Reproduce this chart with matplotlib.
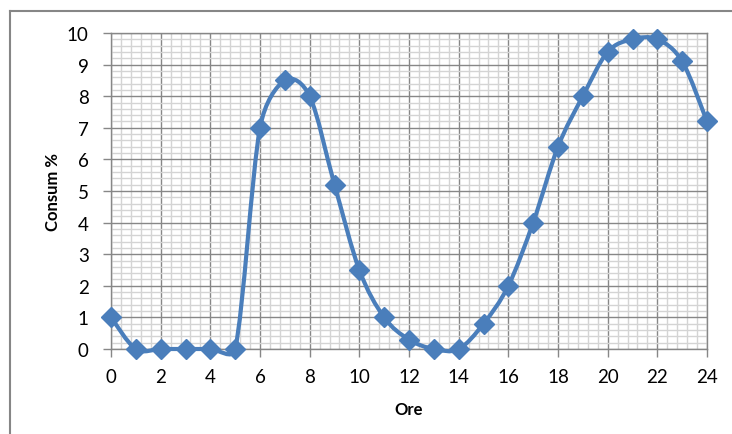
import numpy as np
import matplotlib
matplotlib.use("Agg")
from matplotlib import pyplot as plt
from matplotlib.path import Path
from matplotlib.patches import PathPatch
from matplotlib.lines import Line2D
from matplotlib.ticker import MultipleLocator

# data
ore = [0, 1, 2, 3, 4, 5, 6, 7, 8, 9, 10, 11, 12,
       13, 14, 15, 16, 17, 18, 19, 20, 21, 22, 23, 24]
consum = [1.0, 0.0, 0.0, 0.0, 0.0, 0.0, 7.0, 8.5, 8.0, 5.2, 2.5, 1.0, 0.3,
          0.0, 0.0, 0.8, 2.0, 4.0, 6.4, 8.0, 9.4, 9.8, 9.8, 9.1, 7.2]
x_ticks = [0, 2, 4, 6, 8, 10, 12, 14, 16, 18, 20, 22, 24]
y_ticks = [0, 1, 2, 3, 4, 5, 6, 7, 8, 9, 10]

blue = '#4a7ebb'
major_grey = '#878787'
minor_grey = '#d4d4d4'

plt.rcParams['font.family'] = ['Lato', 'DejaVu Sans']

fig = plt.figure(figsize=(7.32, 4.35), dpi=100)
ax = fig.add_axes([111 / 732, 1 - 350 / 435, 596 / 732, 316 / 435])
ax.set_xlim(0, 24)
ax.set_ylim(0, 10)


def smooth_path(ax, xs, ys):
    # bezier smoothing done in screen space, control arms limited to
    # half of the segment so flat runs don't swing around
    pts = ax.transData.transform(np.column_stack([xs, ys]).astype(float))
    n = len(pts)
    verts = [pts[0]]
    codes = [Path.MOVETO]
    for i in range(n - 1):
        p0 = pts[max(i - 1, 0)]
        p1 = pts[i]
        p2 = pts[i + 1]
        p3 = pts[min(i + 2, n - 1)]
        half = np.hypot(*(p2 - p1)) / 2.0
        t1 = (p2 - p0) / 6.0
        t2 = (p3 - p1) / 6.0
        l1 = np.hypot(*t1)
        l2 = np.hypot(*t2)
        if l1 > half:
            t1 = t1 * half / l1
        if l2 > half:
            t2 = t2 * half / l2
        verts += [p1 + t1, p2 - t2, p2]
        codes += [Path.CURVE4] * 3
    data_verts = ax.transData.inverted().transform(np.array(verts))
    return Path(data_verts, codes)


curve = PathPatch(smooth_path(ax, ore, consum), fill=False, edgecolor=blue, lw=3,
                  transform=ax.transData, clip_on=False, zorder=3,
                  capstyle='round', joinstyle='round')
ax.add_patch(curve)
ax.plot(ore, consum, ls='none', marker='D', ms=10, color=blue, clip_on=False, zorder=4)

ax.set_xticks(x_ticks)
ax.set_yticks(y_ticks)
ax.xaxis.set_minor_locator(MultipleLocator(0.4))
ax.yaxis.set_minor_locator(MultipleLocator(0.2))
ax.grid(which='minor', color=minor_grey, lw=1.0, zorder=0)
ax.grid(which='major', color=major_grey, lw=1.0, zorder=1)
ax.set_axisbelow(True)
ax.tick_params(which='minor', length=0)
ax.tick_params(axis='x', which='major', length=6, width=1, color=major_grey,
               labelsize=13.5, labelcolor='#000000', pad=8)
ax.tick_params(axis='y', which='major', length=6, width=1, color=major_grey,
               labelsize=13.5, labelcolor='#000000', pad=10)
for s in ax.spines.values():
    s.set_color(major_grey)
    s.set_linewidth(1.0)

ax.set_xlabel('Ore', fontsize=12, fontweight='bold', labelpad=11)
ax.set_ylabel('Consum %', fontsize=12, fontweight='bold', labelpad=4)

# outer chart frame (only left and top edges are visible in the crop)
fig.add_artist(Line2D([10 / 732, 10 / 732], [0, 1 - 12 / 435], color='#868686', lw=1.5))
fig.add_artist(Line2D([10 / 732, 1], [1 - 12 / 435, 1 - 12 / 435], color='#868686', lw=1.5))

plt.savefig('out.png', dpi=100)
